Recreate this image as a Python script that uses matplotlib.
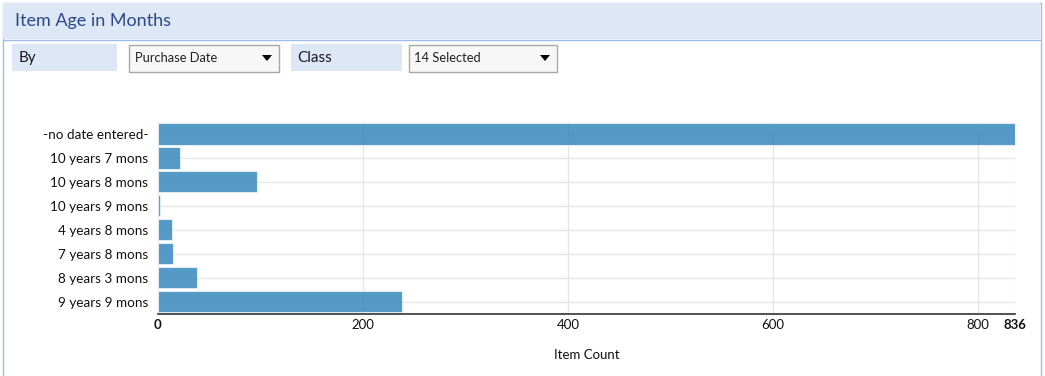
import matplotlib
matplotlib.use("Agg")
import matplotlib.pyplot as plt
from matplotlib.patches import Rectangle, Polygon

categories = ["-no date entered-", "10 years 7 mons", "10 years 8 mons", "10 years 9 mons",
              "4 years 8 mons", "7 years 8 mons", "8 years 3 mons", "9 years 9 mons"]
counts = [836, 21, 97, 2, 14, 15, 38, 238]
xticks = [0, 200, 400, 600, 800, 836]
title = "Item Age in Months"
by_label, by_value = "By", "Purchase Date"
class_label, class_value = "Class", "14 Selected"

W, H = 1045, 376
plt.rcParams['font.family'] = ['Lato', 'DejaVu Sans']
fig = plt.figure(figsize=(W / 100, H / 100), dpi=100)

def px(x, y, w, h):
    return (x / W, 1 - (y + h) / H, w / W, h / H)

def rect(x, y, w, h, fc, ec="none", lw=1.0, z=0):
    l, b, ww, hh = px(x, y, w, h)
    fig.add_artist(Rectangle((l, b), ww, hh, transform=fig.transFigure,
                             facecolor=fc, edgecolor=ec, linewidth=lw, zorder=z))

def txt(x, y, s, **kw):
    fig.text(x / W, 1 - y / H, s, **kw)

def tri(cx, cy):
    pts = [((cx - 5) / W, 1 - (cy - 3) / H), ((cx + 5) / W, 1 - (cy - 3) / H), (cx / W, 1 - (cy + 3) / H)]
    fig.add_artist(Polygon(pts, closed=True, transform=fig.transFigure, facecolor="black", edgecolor="none"))

# panel
rect(2.5, 2.5, 1038, 380, "white", ec="#9dbde6", lw=1.0)
rect(3, 3, 1037, 36, "#dde7f5")
fig.add_artist(plt.Line2D([3 / W, 1040 / W], [1 - 39.5 / H, 1 - 39.5 / H], transform=fig.transFigure,
                          color="#9dbde6", lw=1.0))
txt(15, 21, title, fontsize=13, color="#2c4a8a", va="center", ha="left")

# controls
rect(12, 44, 105, 27, "#dde7f5")
txt(19, 58, by_label, fontsize=11, color="#1a1a1a", va="center")
rect(128.5, 44.5, 150, 27, "#f7f7f7", ec="#a8a8a8", lw=1.0)
txt(135, 57.5, by_value, fontsize=9.3, color="#222222", va="center")
tri(267, 58)
rect(291, 44, 111, 27, "#dde7f5")
txt(297, 58, class_label, fontsize=11, color="#1a1a1a", va="center")
rect(408.5, 44.5, 148, 27, "#f7f7f7", ec="#a8a8a8", lw=1.0)
txt(414, 57.5, class_value, fontsize=9.3, color="#222222", va="center")
tri(545, 58)

# chart
ax = fig.add_axes([158 / W, 1 - 313.5 / H, (1015 - 158) / W, (313.5 - 122) / H])
ax.set_facecolor("none")
y = list(range(len(categories)))
ax.barh(y, counts, height=0.89, color="#3787bd", alpha=0.85, edgecolor="#e8f1f8", linewidth=0.8, zorder=2)
ax.set_ylim(len(categories) - 0.5, -0.5)
ax.set_xlim(0, 836)
ax.set_yticks(y)
ax.set_yticklabels(categories, fontsize=9.7, color="#111111")
ax.set_xticks(xticks)
ax.set_xticklabels([str(v) for v in xticks], fontsize=9.5, color="#111111")
for lab, v in zip(ax.get_xticklabels(), xticks):
    if v in (0, 836):
        lab.set_fontweight("bold")
ax.tick_params(axis="y", length=0, pad=7)
ax.tick_params(axis="x", length=0, pad=4)
ax.grid(True, axis="both", color="#e6e6e6", linewidth=1.0, zorder=0)
ax.set_axisbelow(True)
for s in ("top", "right", "left"):
    ax.spines[s].set_visible(False)
ax.spines["bottom"].set_color("#333333")
ax.spines["bottom"].set_linewidth(1.2)
ax.set_xlabel("Item Count", fontsize=9.5, color="#111111", labelpad=13)

fig.savefig("out.png", dpi=100)
